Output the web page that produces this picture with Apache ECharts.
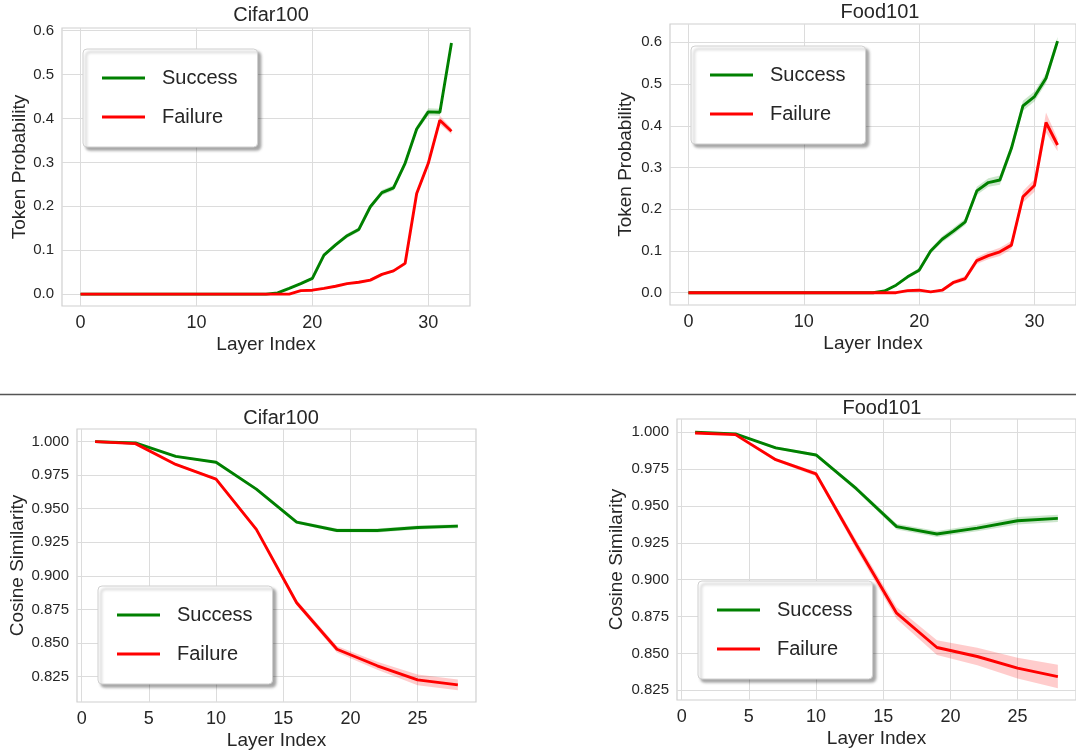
<!DOCTYPE html>
<html>
<head>
<meta charset="utf-8">
<title>Token probability / cosine similarity</title>
<script src="https://cdn.jsdelivr.net/npm/echarts@6/dist/echarts.min.js"></script>
<style>
  html, body { margin: 0; padding: 0; background: #fff; }
  #main { width: 1076px; height: 751px; }
</style>
</head>
<body>
<div id="main"></div>
<script>
// layer indices
const topLayers = [0, 1, 2, 3, 4, 5, 6, 7, 8, 9, 10, 11, 12, 13, 14, 15, 16,
  17, 18, 19, 20, 21, 22, 23, 24, 25, 26, 27, 28, 29, 30, 31, 32]
const bottomLayers = [1, 4, 7, 10, 13, 16, 19, 22, 25, 28]

// token probability, Cifar100
const cifarProbSuccess = [0, 0, 0, 0, 0, 0, 0, 0, 0, 0, 0, 0, 0, 0, 0, 0, 0,
  0.003, 0.013, 0.024, 0.036, 0.089, 0.112, 0.133, 0.147, 0.199, 0.231, 0.242, 0.298, 0.376, 0.415, 0.414, 0.572]
const cifarProbFailure = [0, 0, 0, 0, 0, 0, 0, 0, 0, 0, 0, 0, 0, 0, 0, 0, 0,
  0, 0, 0.008, 0.009, 0.013, 0.018, 0.024, 0.027, 0.032, 0.045, 0.053, 0.07, 0.229, 0.298, 0.396, 0.371]
const cifarProbSuccessBand = [0, 0, 0, 0, 0, 0, 0, 0, 0, 0, 0, 0, 0, 0, 0, 0, 0,
  0.001, 0.002, 0.002, 0.003, 0.004, 0.004, 0.005, 0.005, 0.005, 0.006, 0.006, 0.006, 0.007, 0.008, 0.008, 0.005]
const cifarProbFailureBand = [0, 0, 0, 0, 0, 0, 0, 0, 0, 0, 0, 0, 0, 0, 0, 0, 0,
  0, 0, 0.001, 0.001, 0.002, 0.002, 0.002, 0.002, 0.003, 0.003, 0.003, 0.004, 0.006, 0.007, 0.01, 0.007]

// token probability, Food101
const foodProbSuccess = [0, 0, 0, 0, 0, 0, 0, 0, 0, 0, 0, 0, 0, 0, 0, 0, 0,
  0.004, 0.018, 0.038, 0.054, 0.1, 0.128, 0.148, 0.17, 0.244, 0.264, 0.27, 0.346, 0.448, 0.47, 0.514, 0.603]
const foodProbFailure = [0, 0, 0, 0, 0, 0, 0, 0, 0, 0, 0, 0, 0, 0, 0, 0, 0,
  0, 0, 0.005, 0.006, 0.002, 0.006, 0.025, 0.034, 0.077, 0.089, 0.098, 0.114, 0.23, 0.257, 0.408, 0.354]
const foodProbSuccessBand = [0, 0, 0, 0, 0, 0, 0, 0, 0, 0, 0, 0, 0, 0, 0, 0, 0,
  0.002, 0.003, 0.004, 0.005, 0.006, 0.007, 0.008, 0.008, 0.01, 0.01, 0.011, 0.011, 0.012, 0.012, 0.012, 0.01]
const foodProbFailureBand = [0, 0, 0, 0, 0, 0, 0, 0, 0, 0, 0, 0, 0, 0, 0, 0, 0,
  0, 0, 0.002, 0.002, 0.002, 0.003, 0.005, 0.006, 0.008, 0.009, 0.01, 0.01, 0.014, 0.015, 0.024, 0.015]

// cosine similarity, Cifar100
const cifarCosSuccess = [1.0, 0.999, 0.989, 0.9846, 0.9646, 0.940, 0.9338, 0.9338, 0.936, 0.937]
const cifarCosFailure = [1.0, 0.9985, 0.983, 0.972, 0.9346, 0.880, 0.8453, 0.833, 0.8225, 0.8188]
const cifarCosSuccessBand = [0.0003, 0.0005, 0.0008, 0.0008, 0.001, 0.0012, 0.0014, 0.0015, 0.0015, 0.0015]
const cifarCosFailureBand = [0.0003, 0.0005, 0.0008, 0.001, 0.0012, 0.002, 0.0025, 0.003, 0.004, 0.004]

// cosine similarity, Food101
const foodCosSuccess = [1.0, 0.9989, 0.9894, 0.9846, 0.9617, 0.936, 0.931, 0.935, 0.940, 0.9416]
const foodCosFailure = [0.9995, 0.9984, 0.9814, 0.9717, 0.9237, 0.8773, 0.854, 0.8479, 0.840, 0.8343]
const foodCosSuccessBand = [0.0003, 0.0005, 0.001, 0.001, 0.0015, 0.002, 0.002, 0.0022, 0.0025, 0.0025]
const foodCosFailureBand = [0.0003, 0.0006, 0.001, 0.0015, 0.003, 0.004, 0.005, 0.006, 0.007, 0.008]

const probTicks = [0, 0.1, 0.2, 0.3, 0.4, 0.5, 0.6]
const cosTicks = [0.825, 0.85, 0.875, 0.9, 0.925, 0.95, 0.975, 1.0]
const topXTicks = [0, 10, 20, 30]
const bottomXTicks = [0, 5, 10, 15, 20, 25]

const FONT = "'Liberation Sans', Arial, sans-serif"
const TEXT = '#262626'
const GRIDLINE = '#dcdcdc'
const GREEN = '#008000'
const RED = '#ff0000'

const chart = echarts.init(document.getElementById('main'))

function xAxisFor (gi, min, max, ticks) {
  return {
    type: 'value',
    gridIndex: gi,
    min: min,
    max: max,
    name: 'Layer Index',
    nameLocation: 'middle',
    nameGap: 29,
    nameTextStyle: { fontFamily: FONT, fontSize: 19, color: TEXT },
    axisLine: { show: false },
    axisTick: { show: false, customValues: ticks },
    axisLabel: { customValues: ticks, fontFamily: FONT, fontSize: 18, color: TEXT, margin: 8 },
    splitLine: { show: true, lineStyle: { color: GRIDLINE, width: 1 } }
  }
}

function yAxisFor (gi, min, max, ticks, digits, name, gap) {
  return {
    type: 'value',
    gridIndex: gi,
    min: min,
    max: max,
    name: name,
    nameLocation: 'middle',
    nameGap: gap,
    nameTextStyle: { fontFamily: FONT, fontSize: 19, color: TEXT },
    axisLine: { show: false },
    axisTick: { show: false, customValues: ticks },
    axisLabel: {
      customValues: ticks,
      fontFamily: FONT,
      fontSize: 15,
      color: TEXT,
      margin: 8,
      formatter: function (v) { return Number(v).toFixed(digits) }
    },
    splitLine: { show: true, lineStyle: { color: GRIDLINE, width: 1 } }
  }
}

// shaded band drawn as one polygon through the axis coordinates
function bandSeries (gi, xs, ys, band, fill) {
  return {
    type: 'custom',
    xAxisIndex: gi,
    yAxisIndex: gi,
    silent: true,
    z: 1,
    data: [[xs[0], ys[0]]],
    renderItem: function (params, api) {
      const pts = []
      for (let i = 0; i < xs.length; i++) pts.push(api.coord([xs[i], ys[i] + band[i]]))
      for (let i = xs.length - 1; i >= 0; i--) pts.push(api.coord([xs[i], ys[i] - band[i]]))
      return { type: 'polygon', shape: { points: pts }, style: { fill: fill } }
    }
  }
}

function lineWithBand (gi, name, xs, ys, band, color, fill) {
  return [
    bandSeries(gi, xs, ys, band, fill),
    {
      type: 'line',
      name: name,
      xAxisIndex: gi,
      yAxisIndex: gi,
      symbol: 'none',
      showSymbol: false,
      lineStyle: { color: color, width: 2.9 },
      itemStyle: { color: color },
      data: xs.map((x, i) => [x, ys[i]]),
      z: 3
    }
  ]
}

function legendAt (left, top) {
  return {
    data: [
      { name: 'Success', icon: 'rect', itemStyle: { color: GREEN } },
      { name: 'Failure', icon: 'rect', itemStyle: { color: RED } }
    ],
    orient: 'vertical',
    left: left,
    top: top,
    itemWidth: 43,
    itemHeight: 2.8,
    itemGap: 19,
    padding: [19, 20, 20, 19],
    backgroundColor: '#ffffff',
    borderColor: '#d0d0d0',
    borderWidth: 1,
    borderRadius: 4,
    shadowColor: 'rgba(0, 0, 0, 0.35)',
    shadowBlur: 3,
    shadowOffsetX: 3,
    shadowOffsetY: 3,
    selectedMode: false,
    textStyle: { fontFamily: FONT, fontSize: 20, color: TEXT, padding: [0, 0, 0, 12] }
  }
}

function titleAt (text, left, top) {
  return {
    text: text,
    left: left,
    top: top,
    textAlign: 'center',
    textStyle: { fontFamily: FONT, fontSize: 20, fontWeight: 'normal', color: TEXT }
  }
}

const option = {
  backgroundColor: '#ffffff',
  animation: false,
  title: [
    titleAt('Cifar100', 266, 0),
    titleAt('Food101', 875, -3),
    titleAt('Cifar100', 276, 403),
    titleAt('Food101', 877, 393)
  ],
  legend: [
    legendAt(83, 49),
    legendAt(691, 46),
    legendAt(98, 586),
    legendAt(698, 581)
  ],
  grid: [
    { left: 62, top: 28, width: 408, height: 278, show: true, borderColor: '#d0d0d0', borderWidth: 1.2, backgroundColor: '#fff' },
    { left: 670, top: 24, width: 411, height: 281, show: true, borderColor: '#d0d0d0', borderWidth: 1.2, backgroundColor: '#fff' },
    { left: 77, top: 429, width: 399, height: 274, show: true, borderColor: '#d0d0d0', borderWidth: 1.2, backgroundColor: '#fff' },
    { left: 677, top: 419, width: 401, height: 281, show: true, borderColor: '#d0d0d0', borderWidth: 1.2, backgroundColor: '#fff' }
  ],
  xAxis: [
    xAxisFor(0, -1.6, 33.6, topXTicks),
    xAxisFor(1, -1.6, 33.6, topXTicks),
    xAxisFor(2, -0.35, 29.35, bottomXTicks),
    xAxisFor(3, -0.35, 29.35, bottomXTicks)
  ],
  yAxis: [
    yAxisFor(0, -0.027, 0.606, probTicks, 1, 'Token Probability', 33),
    yAxisFor(1, -0.0295, 0.644, probTicks, 1, 'Token Probability', 35),
    yAxisFor(2, 0.806, 1.0094, cosTicks, 3, 'Cosine Similarity', 50),
    yAxisFor(3, 0.8184, 1.009, cosTicks, 3, 'Cosine Similarity', 51)
  ],
  graphic: [
    {
      type: 'line',
      shape: { x1: 0, y1: 394.5, x2: 1076, y2: 394.5 },
      style: { stroke: '#555555', lineWidth: 1.5 },
      z: 100
    }
  ],
  series: [].concat(
    lineWithBand(0, 'Success', topLayers, cifarProbSuccess, cifarProbSuccessBand, GREEN, 'rgba(0,128,0,0.2)'),
    lineWithBand(0, 'Failure', topLayers, cifarProbFailure, cifarProbFailureBand, RED, 'rgba(255,0,0,0.2)'),
    lineWithBand(1, 'Success', topLayers, foodProbSuccess, foodProbSuccessBand, GREEN, 'rgba(0,128,0,0.2)'),
    lineWithBand(1, 'Failure', topLayers, foodProbFailure, foodProbFailureBand, RED, 'rgba(255,0,0,0.2)'),
    lineWithBand(2, 'Success', bottomLayers, cifarCosSuccess, cifarCosSuccessBand, GREEN, 'rgba(0,128,0,0.2)'),
    lineWithBand(2, 'Failure', bottomLayers, cifarCosFailure, cifarCosFailureBand, RED, 'rgba(255,0,0,0.2)'),
    lineWithBand(3, 'Success', bottomLayers, foodCosSuccess, foodCosSuccessBand, GREEN, 'rgba(0,128,0,0.2)'),
    lineWithBand(3, 'Failure', bottomLayers, foodCosFailure, foodCosFailureBand, RED, 'rgba(255,0,0,0.2)')
  )
}

chart.setOption(option)
</script>
</body>
</html>
